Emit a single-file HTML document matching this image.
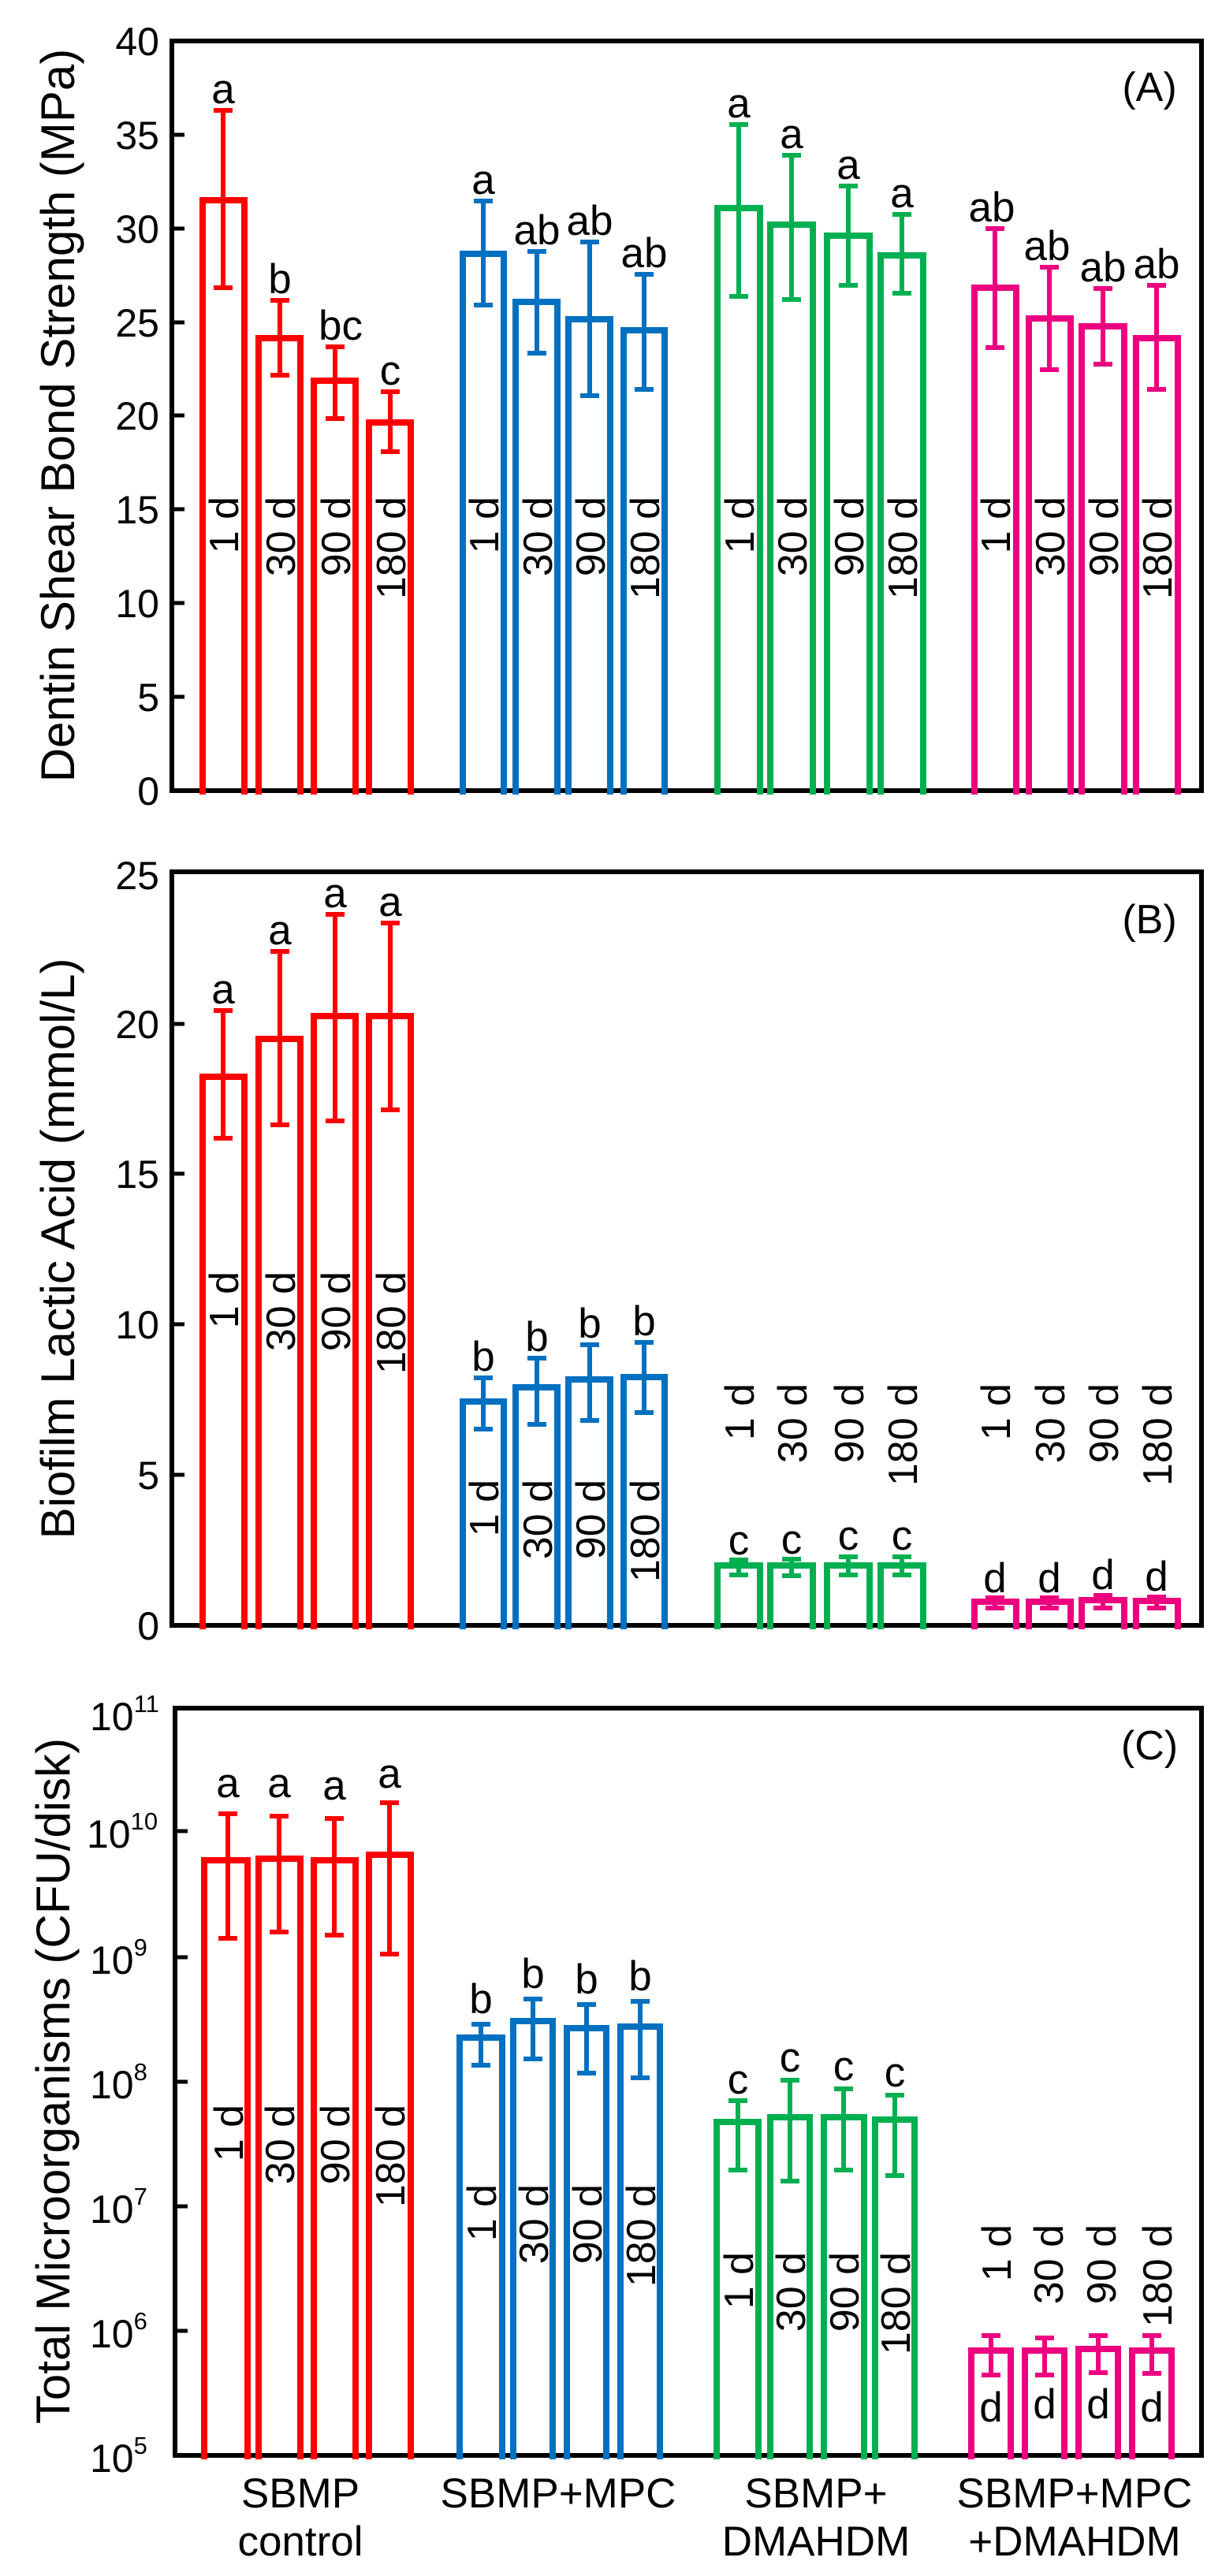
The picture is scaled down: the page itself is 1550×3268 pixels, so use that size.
<!DOCTYPE html>
<html><head><meta charset="utf-8"><style>
html,body{margin:0;padding:0;background:#fff}
svg{display:block}
text{font-family:"Liberation Sans",Arial,sans-serif;fill:#000}
</style></head><body>
<svg width="1550" height="3268" viewBox="0 0 1550 3268" xmlns="http://www.w3.org/2000/svg">
<defs>
<style>
.r{stroke:#ff0000}.b{stroke:#0070c0}.g{stroke:#00b050}.p{stroke:#ec0080}
.bar{fill:none;stroke-width:8}
.eb{fill:none;stroke-width:6}
.lt{font-size:53px;text-anchor:middle}
.dl{font-size:52px;text-anchor:end}
.tk{font-size:50px;text-anchor:end}
.ti{font-size:60px;text-anchor:middle}
.xl{font-size:53px;text-anchor:middle}
</style>
</defs>

<!-- ============ PANEL A ============ -->
<rect x="218" y="52" width="1306" height="951" fill="none" stroke="#000" stroke-width="6"/>
<g stroke="#000" stroke-width="5">
<line x1="218" y1="884" x2="234" y2="884"/><line x1="218" y1="765" x2="234" y2="765"/>
<line x1="218" y1="646" x2="234" y2="646"/><line x1="218" y1="527" x2="234" y2="527"/>
<line x1="218" y1="409" x2="234" y2="409"/><line x1="218" y1="290" x2="234" y2="290"/>
<line x1="218" y1="171" x2="234" y2="171"/>
</g>
<g class="tk">
<text x="202" y="1021">0</text><text x="202" y="902">5</text><text x="202" y="783">10</text>
<text x="202" y="664">15</text><text x="202" y="545">20</text><text x="202" y="427">25</text>
<text x="202" y="308">30</text><text x="202" y="189">35</text><text x="202" y="70">40</text>
</g>
<text class="ti" transform="translate(94,527) rotate(-90)">Dentin Shear Bond Strength (MPa)</text>
<text x="1458" y="128" font-size="52" text-anchor="middle">(A)</text>

<g class="bar r">
<path d="M257 1008V254H310V1008"/><path d="M328 1008V429H381V1008"/><path d="M398 1008V483H451V1008"/><path d="M468 1008V536H521V1008"/>
</g>
<g class="bar b">
<path d="M587 1008V322H639V1008"/><path d="M654 1008V383H707V1008"/><path d="M721 1008V405H774V1008"/><path d="M791 1008V419H843V1008"/>
</g>
<g class="bar g">
<path d="M910 1008V264H964V1008"/><path d="M977 1008V285H1031V1008"/><path d="M1049 1008V299H1103V1008"/><path d="M1117 1008V324H1171V1008"/>
</g>
<g class="bar p">
<path d="M1236 1008V365H1289V1008"/><path d="M1305 1008V404H1358V1008"/><path d="M1372 1008V414H1426V1008"/><path d="M1441 1008V429H1494V1008"/>
</g>
<g class="eb r">
<path d="M283 140V365M271 140H295M271 365H295"/><path d="M355 381V476M343 381H367M343 476H367"/>
<path d="M425 440V531M413 440H437M413 531H437"/><path d="M495 497V573M483 497H507M483 573H507"/>
</g>
<g class="eb b">
<path d="M613 255V387M601 255H625M601 387H625"/><path d="M681 319V448M669 319H693M669 448H693"/>
<path d="M748 307V502M736 307H760M736 502H760"/><path d="M817 348V494M805 348H829M805 494H829"/>
</g>
<g class="eb g">
<path d="M937 158V376M925 158H949M925 376H949"/><path d="M1004 197V380M992 197H1016M992 380H1016"/>
<path d="M1076 236V362M1064 236H1088M1064 362H1088"/><path d="M1144 272V372M1132 272H1156M1132 372H1156"/>
</g>
<g class="eb p">
<path d="M1262 290V441M1250 290H1274M1250 441H1274"/><path d="M1331 339V469M1319 339H1343M1319 469H1343"/>
<path d="M1399 366V462M1387 366H1411M1387 462H1411"/><path d="M1467 362V494M1455 362H1479M1455 494H1479"/>
</g>
<g class="lt">
<text x="283" y="131">a</text><text x="355" y="372">b</text><text x="432" y="431">bc</text><text x="495" y="488">c</text>
<text x="613" y="246">a</text><text x="681" y="310">ab</text><text x="748" y="298">ab</text><text x="817" y="339">ab</text>
<text x="937" y="149">a</text><text x="1004" y="188">a</text><text x="1076" y="227">a</text><text x="1144" y="263">a</text>
<text x="1258" y="281">ab</text><text x="1328" y="330">ab</text><text x="1399" y="357">ab</text><text x="1467" y="353">ab</text>
</g>
<g class="dl">
<text transform="translate(302,630) rotate(-90)">1 d</text><text transform="translate(374,630) rotate(-90)">30 d</text>
<text transform="translate(444,630) rotate(-90)">90 d</text><text transform="translate(514,630) rotate(-90)">180 d</text>
<text transform="translate(632,630) rotate(-90)">1 d</text><text transform="translate(700,630) rotate(-90)">30 d</text>
<text transform="translate(767,630) rotate(-90)">90 d</text><text transform="translate(836,630) rotate(-90)">180 d</text>
<text transform="translate(956,630) rotate(-90)">1 d</text><text transform="translate(1023,630) rotate(-90)">30 d</text>
<text transform="translate(1095,630) rotate(-90)">90 d</text><text transform="translate(1163,630) rotate(-90)">180 d</text>
<text transform="translate(1281,630) rotate(-90)">1 d</text><text transform="translate(1350,630) rotate(-90)">30 d</text>
<text transform="translate(1418,630) rotate(-90)">90 d</text><text transform="translate(1486,630) rotate(-90)">180 d</text>
</g>

<!-- ============ PANEL B ============ -->
<rect x="218" y="1106" width="1306" height="956" fill="none" stroke="#000" stroke-width="6"/>
<g stroke="#000" stroke-width="5">
<line x1="218" y1="1871" x2="234" y2="1871"/><line x1="218" y1="1680" x2="234" y2="1680"/>
<line x1="218" y1="1489" x2="234" y2="1489"/><line x1="218" y1="1299" x2="234" y2="1299"/>
</g>
<g class="tk">
<text x="202" y="2080">0</text><text x="202" y="1889">5</text><text x="202" y="1698">10</text>
<text x="202" y="1507">15</text><text x="202" y="1317">20</text><text x="202" y="1128">25</text>
</g>
<text class="ti" transform="translate(94,1584) rotate(-90)">Biofilm Lactic Acid (mmol/L)</text>
<text x="1458" y="1184" font-size="52" text-anchor="middle">(B)</text>

<g class="bar r">
<path d="M257 2067V1366H310V2067"/><path d="M328 2067V1318H381V2067"/><path d="M398 2067V1289H451V2067"/><path d="M468 2067V1289H521V2067"/>
</g>
<g class="bar b">
<path d="M587 2067V1778H639V2067"/><path d="M654 2067V1760H707V2067"/><path d="M721 2067V1750H774V2067"/><path d="M791 2067V1747H843V2067"/>
</g>
<g class="bar g">
<path d="M910 2067V1986H964V2067"/><path d="M977 2067V1986H1031V2067"/><path d="M1049 2067V1986H1103V2067"/><path d="M1117 2067V1986H1171V2067"/>
</g>
<g class="bar p">
<path d="M1236 2067V2032H1289V2067"/><path d="M1305 2067V2032H1358V2067"/><path d="M1372 2067V2030H1426V2067"/><path d="M1441 2067V2031H1494V2067"/>
</g>
<g class="eb r">
<path d="M283 1282V1444M271 1282H295M271 1444H295"/><path d="M355 1207V1427M343 1207H367M343 1427H367"/>
<path d="M425 1160V1422M413 1160H437M413 1422H437"/><path d="M495 1171V1408M483 1171H507M483 1408H507"/>
</g>
<g class="eb b">
<path d="M613 1748V1813M601 1748H625M601 1813H625"/><path d="M681 1723V1807M669 1723H693M669 1807H693"/>
<path d="M748 1706V1802M736 1706H760M736 1802H760"/><path d="M817 1703V1792M805 1703H829M805 1792H829"/>
</g>
<g class="eb g">
<path d="M937 1979V1998M925 1979H949M925 1998H949"/><path d="M1004 1978V1999M992 1978H1016M992 1999H1016"/>
<path d="M1076 1975V1998M1064 1975H1088M1064 1998H1088"/><path d="M1144 1975V1998M1132 1975H1156M1132 1998H1156"/>
</g>
<g class="eb p">
<path d="M1262 2027V2040M1250 2027H1274M1250 2040H1274"/><path d="M1331 2027V2040M1319 2027H1343M1319 2040H1343"/>
<path d="M1399 2024V2040M1387 2024H1411M1387 2040H1411"/><path d="M1467 2026V2040M1455 2026H1479M1455 2040H1479"/>
</g>
<g class="lt">
<text x="283" y="1273">a</text><text x="355" y="1198">a</text><text x="425" y="1151">a</text><text x="495" y="1162">a</text>
<text x="613" y="1739">b</text><text x="681" y="1714">b</text><text x="748" y="1697">b</text><text x="817" y="1694">b</text>
<text x="937" y="1972">c</text><text x="1004" y="1971">c</text><text x="1076" y="1966">c</text><text x="1144" y="1966">c</text>
<text x="1262" y="2020">d</text><text x="1331" y="2020">d</text><text x="1399" y="2016">d</text><text x="1467" y="2018">d</text>
</g>
<g class="dl">
<text transform="translate(302,1613) rotate(-90)">1 d</text><text transform="translate(374,1613) rotate(-90)">30 d</text>
<text transform="translate(444,1613) rotate(-90)">90 d</text><text transform="translate(514,1613) rotate(-90)">180 d</text>
<text transform="translate(632,1877) rotate(-90)">1 d</text><text transform="translate(700,1877) rotate(-90)">30 d</text>
<text transform="translate(767,1877) rotate(-90)">90 d</text><text transform="translate(836,1877) rotate(-90)">180 d</text>
<text transform="translate(956,1755) rotate(-90)">1 d</text><text transform="translate(1023,1755) rotate(-90)">30 d</text>
<text transform="translate(1095,1755) rotate(-90)">90 d</text><text transform="translate(1163,1755) rotate(-90)">180 d</text>
<text transform="translate(1281,1755) rotate(-90)">1 d</text><text transform="translate(1350,1755) rotate(-90)">30 d</text>
<text transform="translate(1418,1755) rotate(-90)">90 d</text><text transform="translate(1486,1755) rotate(-90)">180 d</text>
</g>

<!-- ============ PANEL C ============ -->
<rect x="222" y="2167" width="1302" height="948" fill="none" stroke="#000" stroke-width="6"/>
<g stroke="#000" stroke-width="5">
<line x1="222" y1="2957" x2="238" y2="2957"/><line x1="222" y1="2799" x2="238" y2="2799"/>
<line x1="222" y1="2641" x2="238" y2="2641"/><line x1="222" y1="2483" x2="238" y2="2483"/>
<line x1="222" y1="2323" x2="238" y2="2323"/>
</g>
<g font-size="50" text-anchor="start">
<text x="114" y="3136">10<tspan font-size="31" dy="-23">5</tspan></text>
<text x="114" y="2978">10<tspan font-size="31" dy="-23">6</tspan></text>
<text x="114" y="2820">10<tspan font-size="31" dy="-23">7</tspan></text>
<text x="114" y="2662">10<tspan font-size="31" dy="-23">8</tspan></text>
<text x="114" y="2504">10<tspan font-size="31" dy="-23">9</tspan></text>
<text x="110" y="2344">10<tspan font-size="31" dy="-23">10</tspan></text>
<text x="114" y="2195">10<tspan font-size="31" dy="-23">11</tspan></text>
</g>
<text class="ti" transform="translate(88,2640) rotate(-90)">Total Microorganisms (CFU/disk)</text>
<text x="1458" y="2232" font-size="52" text-anchor="middle">(C)</text>

<g class="bar r">
<path d="M259 3120V2360H314V3120"/><path d="M328 3120V2358H381V3120"/><path d="M398 3120V2360H451V3120"/><path d="M468 3120V2353H521V3120"/>
</g>
<g class="bar b">
<path d="M583 3120V2585H637V3120"/><path d="M651 3120V2564H701V3120"/><path d="M719 3120V2573H769V3120"/><path d="M787 3120V2571H837V3120"/>
</g>
<g class="bar g">
<path d="M909 3120V2692H962V3120"/><path d="M977 3120V2686H1027V3120"/><path d="M1045 3120V2686H1096V3120"/><path d="M1110 3120V2689H1160V3120"/>
</g>
<g class="bar p">
<path d="M1232 3120V2982H1282V3120"/><path d="M1300 3120V2982H1350V3120"/><path d="M1368 3120V2980H1418V3120"/><path d="M1436 3120V2982H1486V3120"/>
</g>
<g class="eb r">
<path d="M289 2301V2459M277 2301H301M277 2459H301"/><path d="M354 2304V2451M342 2304H366M342 2451H366"/>
<path d="M424 2307V2455M412 2307H436M412 2455H436"/><path d="M494 2287V2479M482 2287H506M482 2479H506"/>
</g>
<g class="eb b">
<path d="M610 2568V2620M598 2568H622M598 2620H622"/><path d="M676 2536V2612M664 2536H688M664 2612H688"/>
<path d="M744 2543V2630M732 2543H756M732 2630H756"/><path d="M812 2539V2636M800 2539H824M800 2636H824"/>
</g>
<g class="eb g">
<path d="M936 2665V2753M924 2665H948M924 2753H948"/><path d="M1002 2639V2767M990 2639H1014M990 2767H1014"/>
<path d="M1070 2650V2753M1058 2650H1082M1058 2753H1082"/><path d="M1135 2658V2760M1123 2658H1147M1123 2760H1147"/>
</g>
<g class="eb p">
<path d="M1257 2963V3013M1245 2963H1269M1245 3013H1269"/><path d="M1325 2966V3013M1313 2966H1337M1313 3013H1337"/>
<path d="M1393 2963V3010M1381 2963H1405M1381 3010H1405"/><path d="M1461 2963V3011M1449 2963H1473M1449 3011H1473"/>
</g>
<g class="lt">
<text x="289" y="2280">a</text><text x="354" y="2280">a</text><text x="424" y="2283">a</text><text x="494" y="2268">a</text>
<text x="610" y="2554">b</text><text x="676" y="2522">b</text><text x="744" y="2529">b</text><text x="812" y="2525">b</text>
<text x="936" y="2656">c</text><text x="1002" y="2628">c</text><text x="1070" y="2639">c</text><text x="1135" y="2647">c</text>
<text x="1257" y="3072">d</text><text x="1325" y="3068">d</text><text x="1393" y="3068">d</text><text x="1461" y="3072">d</text>
</g>
<g class="dl">
<text transform="translate(308,2670) rotate(-90)">1 d</text><text transform="translate(373,2670) rotate(-90)">30 d</text>
<text transform="translate(443,2670) rotate(-90)">90 d</text><text transform="translate(513,2670) rotate(-90)">180 d</text>
<text transform="translate(629,2771) rotate(-90)">1 d</text><text transform="translate(695,2771) rotate(-90)">30 d</text>
<text transform="translate(763,2771) rotate(-90)">90 d</text><text transform="translate(831,2771) rotate(-90)">180 d</text>
<text transform="translate(955,2857) rotate(-90)">1 d</text><text transform="translate(1021,2857) rotate(-90)">30 d</text>
<text transform="translate(1089,2857) rotate(-90)">90 d</text><text transform="translate(1154,2857) rotate(-90)">180 d</text>
<text transform="translate(1282,2822) rotate(-90)">1 d</text><text transform="translate(1348,2822) rotate(-90)">30 d</text>
<text transform="translate(1415,2822) rotate(-90)">90 d</text><text transform="translate(1486,2822) rotate(-90)">180 d</text>
</g>

<g class="xl">
<text x="381" y="3181">SBMP</text><text x="381" y="3242">control</text>
<text x="708" y="3181">SBMP+MPC</text>
<text x="1035" y="3181">SBMP+</text><text x="1035" y="3242">DMAHDM</text>
<text x="1363" y="3181">SBMP+MPC</text><text x="1363" y="3242">+DMAHDM</text>
</g>
</svg>
</body></html>
